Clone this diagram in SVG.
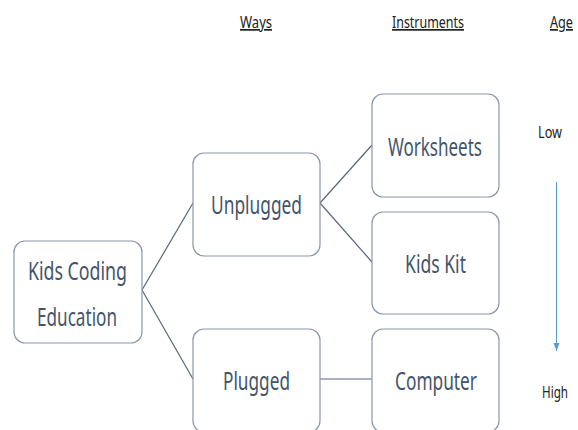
<svg xmlns="http://www.w3.org/2000/svg" width="578" height="430" viewBox="0 0 578 430">
<defs>
<style>
.box{fill:#ffffff;stroke:#8a97a8;stroke-width:1.2}
.lbl{font-family:"Noto Sans","Open Sans",sans-serif;font-size:25px;fill:#44546a;text-anchor:middle}
.hdr{font-family:"Noto Sans","Open Sans",sans-serif;font-size:17px;fill:#222222;text-decoration:underline}
.age{font-family:"Noto Sans","Open Sans",sans-serif;font-size:17px;fill:#222222}
.conn{stroke:#5a6678;stroke-width:1.2;fill:none}
</style>
<marker id="ah" markerWidth="8" markerHeight="8" refX="8" refY="4" orient="auto" markerUnits="userSpaceOnUse" viewBox="0 0 8 8">
<path d="M0,1 L8,4 L0,7 Z" fill="#5b9bd5"/>
</marker>
</defs>
<rect width="578" height="430" fill="#ffffff"/>
<g id="headers">
<text class="hdr" x="240" y="28" textLength="32" lengthAdjust="spacingAndGlyphs">Ways</text>
<text class="hdr" x="392" y="28" textLength="72" lengthAdjust="spacingAndGlyphs">Instruments</text>
<text class="hdr" x="550" y="28" textLength="23" lengthAdjust="spacingAndGlyphs">Age</text>
</g>
<g id="connectors">
<line class="conn" x1="142" y1="290" x2="193" y2="203"/>
<line class="conn" x1="142" y1="290" x2="193" y2="379"/>
<line class="conn" x1="320" y1="203" x2="372" y2="145"/>
<line class="conn" x1="320" y1="203" x2="372" y2="262"/>
<line class="conn" x1="320" y1="379" x2="372" y2="379"/>
</g>
<g id="node-kce">
<rect class="box" x="14" y="241" width="128" height="102" rx="11"/>
<text class="lbl" x="77.5" y="280" textLength="99" lengthAdjust="spacingAndGlyphs">Kids Coding</text>
<text class="lbl" x="77" y="326" textLength="80" lengthAdjust="spacingAndGlyphs">Education</text>
</g>
<g id="node-unplugged">
<rect class="box" x="193" y="153" width="127" height="103" rx="11"/>
<text class="lbl" x="256.5" y="214" textLength="91" lengthAdjust="spacingAndGlyphs">Unplugged</text>
</g>
<g id="node-plugged">
<rect class="box" x="193" y="329" width="127" height="103" rx="11"/>
<text class="lbl" x="256.5" y="390" textLength="67" lengthAdjust="spacingAndGlyphs">Plugged</text>
</g>
<g id="node-worksheets">
<rect class="box" x="372" y="94" width="127" height="103" rx="11"/>
<text class="lbl" x="435" y="156" textLength="94" lengthAdjust="spacingAndGlyphs">Worksheets</text>
</g>
<g id="node-kidskit">
<rect class="box" x="372" y="212" width="127" height="102" rx="11"/>
<text class="lbl" x="435.5" y="273" textLength="61" lengthAdjust="spacingAndGlyphs">Kids Kit</text>
</g>
<g id="node-computer">
<rect class="box" x="372" y="329" width="127" height="103" rx="11"/>
<text class="lbl" x="436" y="390" textLength="82" lengthAdjust="spacingAndGlyphs">Computer</text>
</g>
<g id="age-scale">
<text class="age" x="538" y="138" textLength="24" lengthAdjust="spacingAndGlyphs">Low</text>
<line x1="556.5" y1="182" x2="556.5" y2="351" stroke="#5b9bd5" stroke-width="1" marker-end="url(#ah)"/>
<text class="age" x="542" y="398" textLength="26" lengthAdjust="spacingAndGlyphs">High</text>
</g>
</svg>
